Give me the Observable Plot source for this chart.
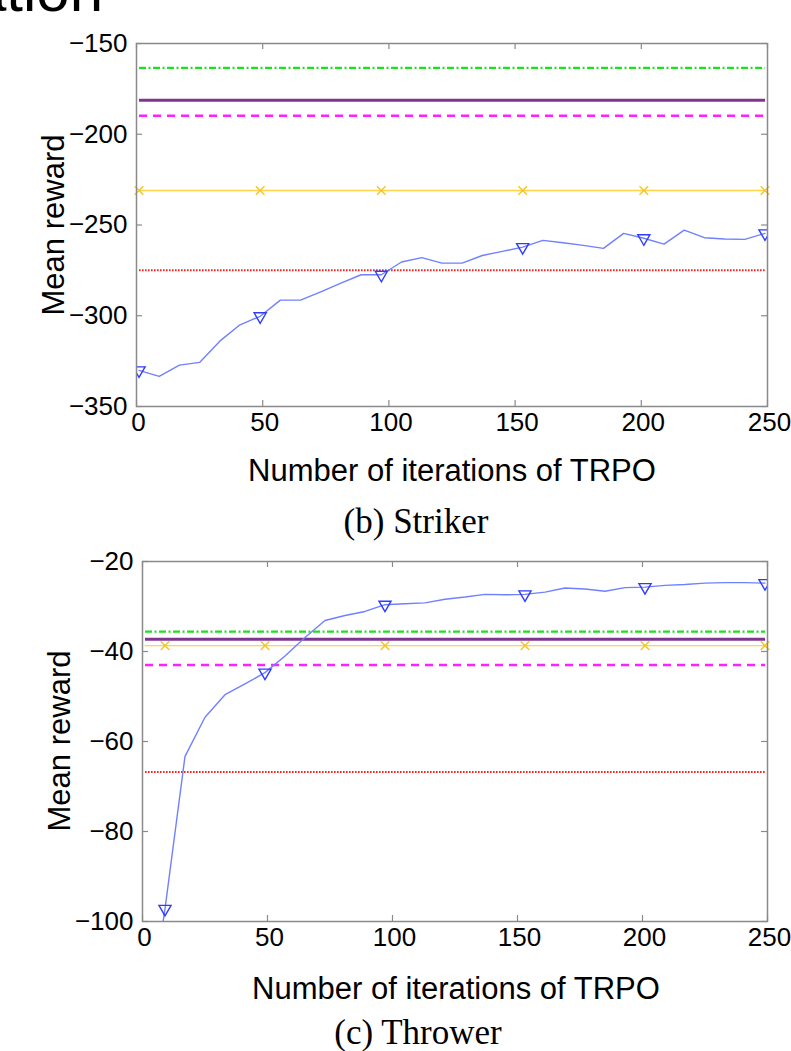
<!DOCTYPE html>
<html><head><meta charset="utf-8">
<script src="https://cdn.jsdelivr.net/npm/d3@7"></script>
<script src="https://cdn.jsdelivr.net/npm/@observablehq/plot@0.6"></script>
<style>
body{margin:0;background:#fff;}
#page{position:relative;width:791px;height:1051px;overflow:hidden;font-family:"Liberation Sans",Arial,sans-serif;color:#000;}
.abs{position:absolute;white-space:nowrap;line-height:1;}
.c{transform:translate(-50%,-50%);}
.rot{transform:translate(-50%,-50%) rotate(-90deg);}
.serif{font-family:"Liberation Serif","Times New Roman",serif;}
.chart{position:absolute;left:0;}
</style></head>
<body><div id="page"></div>
<script>
// ---- data ----
const iterations = [1, 9, 17, 25, 33, 41, 49, 57, 65, 73, 81, 89, 97, 105, 113, 121, 129, 137, 145, 153, 161, 169, 177, 185, 193, 201, 209, 217, 225, 233, 241, 249];
const xTicks = [0, 50, 100, 150, 200, 250];
const xLabel = "Number of iterations of TRPO";
const yLabel = "Mean reward";

// (b) Striker
const strikerTRPO = [-330.1, -333.4, -327.2, -325.7, -314, -305, -300.3, -291.4, -291.4, -286.8, -282, -277.4, -277.4, -270.4, -268, -271, -271, -266.8, -264.5, -262.2, -258.5, -259.8, -261.2, -262.9, -254.6, -257.3, -260.5, -252.8, -257, -257.7, -257.9, -254.6];
const strikerTRPOMarkers = [1, 49, 97, 153, 201, 249];
const strikerYellowMarkers = [1, 49, 97, 153, 201, 249];
const strikerGreen = -163.4;
const strikerPurple = -181.3;
const strikerMagenta = -189.8;
const strikerYellow = -231;
const strikerRed = -274.9;
const strikerYTicks = [-350, -300, -250, -200, -150];
const strikerYDomain = [-350, -150];
const strikerCaption = "(b) Striker";

// (c) Thrower
const throwerTRPO = [-127, -97.2, -63.3, -54.6, -49.6, -47.2, -44.7, -41, -36.9, -33.1, -32, -31.1, -29.6, -29.4, -29.2, -28.4, -27.9, -27.3, -27.4, -27.3, -26.8, -25.9, -26.1, -26.6, -25.8, -25.7, -25.3, -25.1, -24.8, -24.7, -24.7, -24.8];
const throwerTRPOMarkers = [1, 9, 49, 97, 153, 201, 249];
const throwerYellowMarkers = [9, 49, 97, 153, 201, 249];
const throwerGreen = -35.6;
const throwerPurple = -37.3;
const throwerMagenta = -43;
const throwerYellow = -38.7;
const throwerRed = -66.8;
const throwerYTicks = [-100, -80, -60, -40, -20];
const throwerYDomain = [-100, -20];
const throwerCaption = "(c) Thrower";

const lineSpan = [1, 249];

// ---- drawing ----
const W = 791;
function makeChart(o) {
  const rows = iterations.map((x, i) => ({x, y: o.trpo[i]}));
  const marks = rows.filter(d => o.trpoMarkers.includes(d.x));
  const hl = v => lineSpan.map(x => ({x, y: v}));
  const ym = o.yellowMarkers.map(x => ({x, y: o.yellow}));
  const frameH = o.height - o.mTop - o.mBottom;
  const frameW = W - o.mLeft - o.mRight;
  const gray = "#8a8a8a";
  return Plot.plot({
    width: W, height: o.height,
    marginLeft: o.mLeft, marginRight: o.mRight, marginTop: o.mTop, marginBottom: o.mBottom,
    style: {fontFamily: '"Liberation Sans", Arial, sans-serif', fontSize: "26px", background: "transparent", color: "#000", overflow: "visible"},
    x: {domain: [0, 250]},
    y: {domain: o.yDomain},
    marks: [
      Plot.line(hl(o.green), {x: "x", y: "y", stroke: "#1fe01f", strokeWidth: 2.2, strokeDasharray: "7,2.5,2,2.5", strokeLinecap: "butt"}),
      Plot.line(hl(o.purple), {x: "x", y: "y", stroke: "#7f3590", strokeWidth: 3, strokeLinecap: "butt"}),
      Plot.line(hl(o.magenta), {x: "x", y: "y", stroke: "#ff1fff", strokeWidth: 2.5, strokeDasharray: "8,6", strokeLinecap: "butt"}),
      Plot.line(hl(o.red), {x: "x", y: "y", stroke: "#ff2020", strokeWidth: 2, strokeDasharray: "1.6,1.4", strokeLinecap: "butt"}),
      Plot.line(hl(o.yellow), {x: "x", y: "y", stroke: "#ffd34a", strokeWidth: 1.4}),
      Plot.dot(ym, {x: "x", y: "y", symbol: "times", r: 4, stroke: "#f5c62c", strokeWidth: 1.5}),
      Plot.line(rows, {x: "x", y: "y", stroke: "#7080ff", strokeWidth: 1.4, clip: true}),
      Plot.dot(marks, {x: "x", y: "y", symbol: "triangle", rotate: 180, r: 4.5, stroke: "#2f3cff", strokeWidth: 1.4, fill: "none", clip: true}),
      Plot.frame({stroke: gray, strokeWidth: 1.5}),
      Plot.tickX(xTicks, {x: d => d, stroke: gray, strokeWidth: 1.2, insetTop: frameH - 6}),
      Plot.tickX(xTicks, {x: d => d, stroke: gray, strokeWidth: 1.2, insetBottom: frameH - 6}),
      Plot.tickY(o.yTicks, {y: d => d, stroke: gray, strokeWidth: 1.2, insetRight: frameW - 6}),
      Plot.tickY(o.yTicks, {y: d => d, stroke: gray, strokeWidth: 1.2, insetLeft: frameW - 6}),
      Plot.axisX(xTicks, {tickSize: 0, tickPadding: 6, label: null, tickFormat: d => String(d), fill: "#000", dx: 2}),
      Plot.axisY(o.yTicks, {tickSize: 0, tickPadding: 9, label: null, tickFormat: d => String(d).replace("-", "\u2212"), fill: "#000"})
    ]
  });
}

const page = document.getElementById("page");
function addDiv(text, cls, left, top, size) {
  const d = document.createElement("div");
  d.className = "abs " + cls;
  d.textContent = text;
  d.style.left = left + "px";
  d.style.top = top + "px";
  d.style.fontSize = size + "px";
  page.appendChild(d);
  return d;
}

// cut-off heading from the page above
const head = document.createElement("div");
head.className = "abs";
head.textContent = "ation";
head.style.right = (W - 103) + "px";
head.style.top = "-39px";
head.style.fontSize = "60px";
page.appendChild(head);

const c1 = makeChart({trpo: strikerTRPO, trpoMarkers: strikerTRPOMarkers, yellowMarkers: strikerYellowMarkers,
  green: strikerGreen, purple: strikerPurple, magenta: strikerMagenta, yellow: strikerYellow, red: strikerRed,
  yTicks: strikerYTicks, yDomain: strikerYDomain, height: 450, mLeft: 136, mRight: 24, mTop: 43, mBottom: 44});
c1.classList.add("chart"); c1.style.top = "0px";
page.appendChild(c1);

const c2 = makeChart({trpo: throwerTRPO, trpoMarkers: throwerTRPOMarkers, yellowMarkers: throwerYellowMarkers,
  green: throwerGreen, purple: throwerPurple, magenta: throwerMagenta, yellow: throwerYellow, red: throwerRed,
  yTicks: throwerYTicks, yDomain: throwerYDomain, height: 450, mLeft: 142, mRight: 24, mTop: 41, mBottom: 49});
c2.classList.add("chart"); c2.style.top = "520px";
page.appendChild(c2);

addDiv(yLabel, "rot", 53, 225, 31);
addDiv(xLabel, "c", 452, 470, 31);
addDiv(strikerCaption, "c serif", 416, 521, 35);
addDiv(yLabel, "rot", 59, 741, 31);
addDiv(xLabel, "c", 456, 988, 31);
addDiv(throwerCaption, "c serif", 418, 1032, 35);
</script>
</body></html>
